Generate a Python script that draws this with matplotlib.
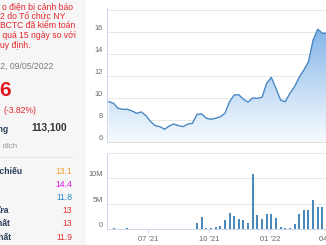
import matplotlib
matplotlib.use('Agg')
import matplotlib.pyplot as plt
import matplotlib.dates as mdates
from matplotlib.patches import Polygon, Rectangle
import numpy as np
import datetime as dt

plt.rcParams['font.family'] = ['Liberation Sans', 'DejaVu Sans']

W, H = 326, 245

# du lieu tuan, bat dau 03/05/2021
start = dt.date(2021, 5, 3)
price = [9.65, 9.51, 9.05, 8.96, 8.96, 8.81, 8.60, 8.72, 8.38, 7.84,
         7.48, 7.39, 7.15, 7.45, 7.63, 7.48, 7.39, 7.63, 7.69, 8.51,
         8.54, 8.15, 8.06, 8.15, 8.29, 8.60, 9.65, 10.26, 10.28, 9.87,
         9.62, 9.99, 9.96, 10.05, 11.32, 11.86, 10.86, 9.80, 9.65, 10.41,
         11.01, 11.86, 12.52, 13.27, 15.24, 16.21, 15.85, 15.85]
volume_m = [0.1, 0.35, 0.08, 0.1, 0.35, 0.1, 0.08, 0.08, 0.08, 0.08,
            0, 0, 0, 0, 0, 0.08, 0, 0, 0.1, 1.15,
            2.4, 0.35, 0.2, 0.45, 0.65, 1.8, 3.1, 2.55, 2.0, 1.8,
            1.25, 10.9, 2.75, 2.0, 2.9, 3.0, 2.2, 0.5, 0.26, 0.2,
            1.1, 2.9, 3.85, 3.7, 5.75, 4.3, 4.3, 4.0]
weeks = [start + dt.timedelta(days=7 * i) for i in range(len(price))]

price_ticks = [6, 8, 10, 12, 14, 16, 18]
vol_ticks = [0, 5, 10, 15]
vol_labels = ['0', '5M', '10M', '']
month_ticks = [dt.date(2021, 7, 1), dt.date(2021, 10, 1), dt.date(2022, 1, 1),
               dt.date(2022, 4, 1), dt.date(2022, 7, 1)]
month_labels = ["07 '21", "10 '21", "01 '22", "04 '22", "07 '22"]

# cot trai
warning = ["o điện bị cảnh báo", "2 do Tổ chức NY", "BCTC đã kiểm toán",
           " quá 15 ngày so với", "uy định."]
rows = [("Giá tham chiếu", "13.1", "#f39c2b"),
        ("Giá trần", "14.4", "#e619e6"),
        ("Giá sàn", "11.8", "#2a8ac6"),
        ("Giá mở cửa", "13", "#e03434"),
        ("Giá cao nhất", "13", "#e03434"),
        ("Giá thấp nhất", "11.9", "#e03434")]

fig = plt.figure(figsize=(W / 100, H / 100), dpi=100)
fig.patch.set_facecolor('white')


def px(x, y):
    return x / W, 1 - y / H


def px_axes(x0, y0, x1, y1):
    return fig.add_axes([x0 / W, 1 - y1 / H, (x1 - x0) / W, (y1 - y0) / H])


fig.patches.append(Rectangle((0, 0), 86 / W, 1, transform=fig.transFigure,
                             facecolor='#f6f6f6', edgecolor='none', zorder=0))

red = '#e2262c'
for i, s in enumerate(warning):
    fig.text(*px(0 if i != 0 else 1.5, 7 + i * 9.5), s, color=red, fontsize=6.2,
             va='center', ha='left')
fig.text(*px(53, 66), "Thứ 2, 09/05/2022", color='#7a7a7a', fontsize=6.2,
         va='center', ha='right')
fig.text(*px(-0.5, 90), "6", color='#e3161c', fontsize=15, fontweight='bold',
         va='center', ha='left')
fig.text(*px(3, 110), "(-3.82%)", color=red, fontsize=6.2, va='center', ha='left')
fig.text(*px(8.5, 129), "Khối lượng", color='#2c3e5a', fontsize=6.2,
         fontweight='bold', va='center', ha='right')
fig.text(*px(67, 127), "113,100", color='#333333', fontsize=7.2,
         fontweight='bold', va='center', ha='right')
fig.text(*px(17, 146), "giao dịch", color='#999999', fontsize=5.8,
         va='center', ha='right')
fig.lines.append(plt.Line2D([0, 73 / W], [1 - 157 / H] * 2, transform=fig.transFigure,
                            color='#e2e2e2', lw=0.6))
for i, (lab, val, col) in enumerate(rows):
    y = 171 + i * 13.2
    fig.text(*px(22 if i == 0 else (8.5 if i == 3 else 9.5 if i == 4 else 11.5), y),
             lab, color='#2c3e5a', fontsize=6.2, fontweight='bold',
             va='center', ha='right', alpha=1 if i not in (1, 2) else 0)
    fig.text(*px(72, y), val, color=col, fontsize=6.2, va='center', ha='right')

# truc x theo ngay
x_left = mdates.date2num(dt.date(2021, 7, 1)) - 41 / 0.663
x_right = x_left + 313 / 0.663
xd = mdates.date2num(weeks)

grid_c = '#e6e6e6'
axis_c = '#ccd6eb'

# bieu do gia
ax = px_axes(107, 7.9, 420, 142)
ax.set_xlim(x_left, x_right)
ax.set_ylim(6, 18.15)
grad = np.linspace(0, 1, 256).reshape(-1, 1)
top = np.array([0.42, 0.65, 0.89])
bot = np.array([0.96, 0.98, 1.0])
img = bot + (top - bot) * grad[..., None] ** 1.1
img = img[::-1]
im = ax.imshow(img.reshape(256, 1, 3), extent=[x_left, x_right, 6, 18.15],
               aspect='auto', origin='upper', zorder=1)
verts = [(xd[0], 6)] + list(zip(xd, price)) + [(xd[-1], 6)]
poly = Polygon(verts, closed=True, facecolor='none', edgecolor='none')
ax.add_patch(poly)
im.set_clip_path(poly)
ax.plot(xd, price, color='#4a88c4', lw=1.0, zorder=3)
ax.set_yticks(price_ticks)
ax.set_yticklabels([str(t) if t < 18 else '' for t in price_ticks])
ax.set_xticks([])
ax.grid(axis='y', color=grid_c, lw=0.7, zorder=0)
ax.set_axisbelow(True)
for s in ['top', 'right']:
    ax.spines[s].set_visible(False)
ax.spines['left'].set_color(axis_c)
ax.spines['left'].set_linewidth(0.7)
ax.spines['bottom'].set_color('#dcdcdc')
ax.spines['bottom'].set_linewidth(0.7)
ax.tick_params(axis='y', length=0, pad=3, labelsize=5.3, labelcolor='#666666')
for t in ax.get_yticklabels():
    t.set_verticalalignment('bottom')

# bieu do khoi luong
av = px_axes(107, 152.7, 420, 229.3)
av.set_xlim(x_left, x_right)
av.set_ylim(0, 15)
av.bar(xd, volume_m, width=3, color='#4a89b9', zorder=3)
av.set_yticks(vol_ticks)
av.set_yticklabels(vol_labels)
av.grid(axis='y', color=grid_c, lw=0.7, zorder=0)
av.set_axisbelow(True)
av.set_xticks(mdates.date2num(month_ticks))
av.set_xticklabels(month_labels)
for s in ['right']:
    av.spines[s].set_visible(False)
av.spines['top'].set_color(grid_c)
av.spines['top'].set_linewidth(0.7)
av.spines['left'].set_color(axis_c)
av.spines['left'].set_linewidth(0.7)
av.spines['bottom'].set_color(axis_c)
av.spines['bottom'].set_linewidth(0.7)
av.tick_params(axis='y', length=0, pad=3, labelsize=5.3, labelcolor='#666666')
av.tick_params(axis='x', length=3, width=0.7, color=axis_c, pad=2,
               labelsize=5.5, labelcolor='#666666')
for t in av.get_yticklabels():
    t.set_verticalalignment('bottom')

plt.savefig('out.png', dpi=100)
plt.close()
